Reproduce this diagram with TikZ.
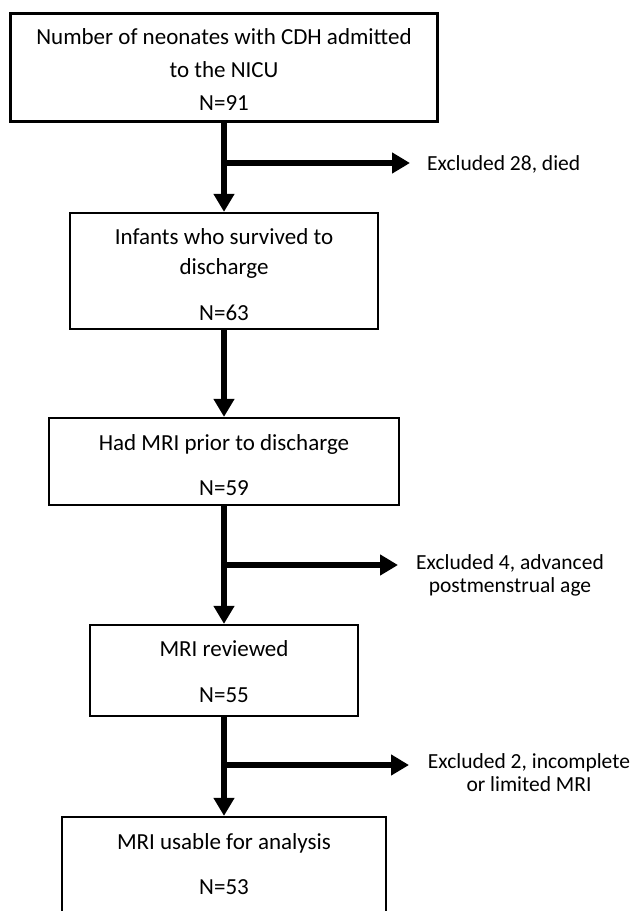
\documentclass[tikz,border=0pt]{standalone}
\usepackage{fontspec}
\setmainfont{Carlito}
\usetikzlibrary{arrows.meta}
\begin{document}
\begin{tikzpicture}[x=1pt,y=-1pt,
  box/.style={draw, line width=2.3pt, inner sep=0pt},
  txt/.style={font=\fontsize{21.5}{23}\selectfont, inner sep=0pt},
  btxt/.style={font=\fontsize{23}{25}\selectfont, inner sep=0pt, anchor=base},
  flow/.style={line width=6pt, -{Triangle[length=18pt,width=20pt]}}]
\clip (0,0) rectangle (631,911);
\fill[white] (0,0) rectangle (631,911);
% boxes
\node[box, line width=3pt, minimum width=427pt, minimum height=108pt] (b1) at (224,67) {};
\node[box, minimum width=308pt, minimum height=116pt] (b2) at (224,271) {};
\node[box, minimum width=350pt, minimum height=87pt] (b3) at (224,461.5) {};
\node[box, minimum width=268pt, minimum height=91pt] (b4) at (224,670.5) {};
\node[box, minimum width=324pt, minimum height=160pt] (b5) at (224,897) {};
% box texts
\node[btxt] (t11) at (224,44) {Number of neonates with CDH admitted};
\node[btxt] (t12) at (224,77) {to the NICU};
\node[btxt] (t13) at (224,110) {N=91};
\node[btxt] (t21) at (224,244) {Infants who survived to};
\node[btxt] (t22) at (224,274) {discharge};
\node[btxt] (t23) at (224,320) {N=63};
\node[btxt] (t31) at (224,450) {Had MRI prior to discharge};
\node[btxt] (t32) at (224,495) {N=59};
\node[btxt] (t41) at (224,656) {MRI reviewed};
\node[btxt] (t42) at (224,702) {N=55};
\node[btxt] (t51) at (224,849) {MRI usable for analysis};
\node[btxt] (t52) at (224,894) {N=53};
% main flow
\draw[flow] (b1.south) -- (b2.north);
\draw[flow] (b2.south) -- (b3.north);
\draw[flow] (b3.south) -- (b4.north);
\draw[flow] (b4.south) -- (b5.north);
% exclusions
\coordinate (j1) at (224,163);
\coordinate (k1) at (410,163);
\draw[flow] (j1) -- (k1);
\node[txt, anchor=base west] (e1) at (427,170) {Excluded 28, died};
\coordinate (j2) at (224,565);
\coordinate (k2) at (398,565);
\draw[flow] (j2) -- (k2);
\node[txt, align=center] (e2) at (510,575) {Excluded 4, advanced\\postmenstrual age};
\coordinate (j3) at (224,765);
\coordinate (k3) at (409,765);
\draw[flow] (j3) -- (k3);
\node[txt, align=center] (e3) at (529,773) {Excluded 2, incomplete\\or limited MRI};
\end{tikzpicture}
\end{document}
